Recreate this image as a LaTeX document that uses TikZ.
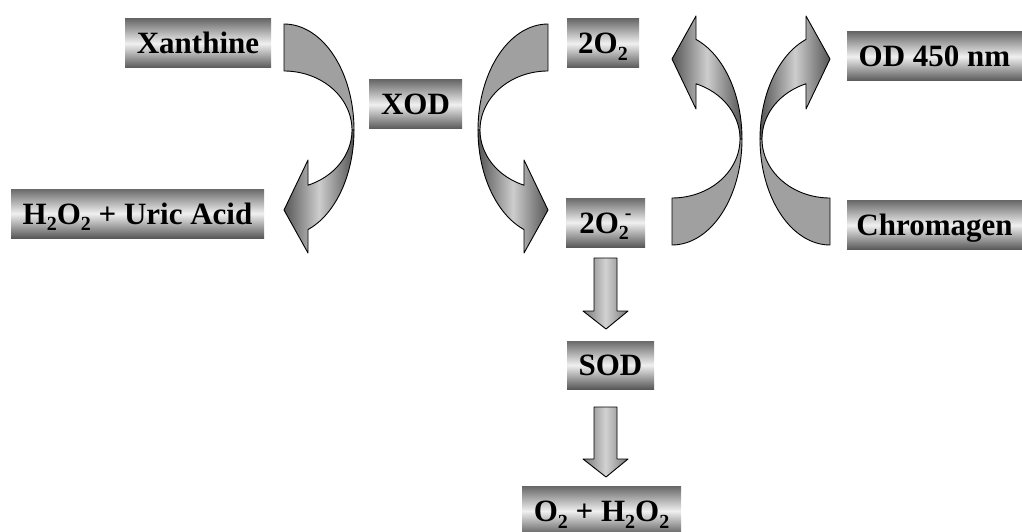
\documentclass[tikz,border=0pt]{standalone}
\usepackage{fontspec}
\setmainfont{Liberation Serif}
\definecolor{boxtop}{RGB}{105,105,105}
\definecolor{boxbot}{RGB}{88,88,88}
\definecolor{boxmid}{RGB}{240,240,240}
\definecolor{arrdark}{RGB}{85,85,85}
\definecolor{arrlight}{RGB}{205,205,205}
\definecolor{arrback}{RGB}{160,160,160}
\newcommand\subtwo{\raisebox{-0.22em}{\fontsize{20}{20}\selectfont 2}}
\newcommand\subsupminus{\rlap{\raisebox{-0.22em}{\fontsize{20}{20}\selectfont 2}}\raisebox{0.42em}{\fontsize{20}{20}\selectfont\kern0.3em-}}
\tikzset{
  labelbox/.style={shape=rectangle, inner sep=0pt, minimum height=49pt,
    top color=boxtop, bottom color=boxbot, middle color=boxmid,
    font=\fontsize{31}{36}\selectfont\bfseries, text=black,
    text height=21pt, text depth=0pt},
  backpiece/.style={draw=black, line width=0.9pt, fill=arrback, line join=round},
  frontpiece/.style={draw=black, line width=0.9pt, left color=arrdark, right color=arrdark, middle color=arrlight, line join=round},
  straightarrow/.style={draw=black, line width=0.9pt, left color=arrdark!80, right color=arrdark!80, middle color=arrlight!90, line join=round}
}
% #1 cx, #2 cy, #3 sx, #4 sy
\newcommand\twistarrow[4]{%
  \draw[backpiece] plot[domain=-90:0, samples=40, variable=\t] ({#1+#3*70*cos(\t)},{#2+#4*106*sin(\t)})
     -- plot[domain=0:-90, samples=40, variable=\t] ({#1+#3*68*cos(\t)},{#2+#4*59*sin(\t)}) -- cycle;
  \draw[frontpiece] plot[domain=0:69.3, samples=40, variable=\t] ({#1+#3*68*cos(\t)},{#2+#4*59*sin(\t)})
     -- ({#1+#3*24},{#2+#4*30}) -- ({#1},{#2+#4*80}) -- ({#1+#3*24},{#2+#4*123})
     -- plot[domain=69.95:0, samples=40, variable=\t] ({#1+#3*70*cos(\t)},{#2+#4*106*sin(\t)}) -- cycle;
}
\begin{document}
\begin{tikzpicture}[x=1pt,y=-1pt]
\useasboundingbox (0,0) rectangle (1022,532);
\clip (0,0) rectangle (1022,532);

% boxes
\node[labelbox, minimum width=146pt] (xan) at (198,43.5) {Xanthine};
\node[labelbox, minimum width=253pt] (uric) at (137.5,213.5) {H\subtwo O\subtwo{} + Uric Acid};
\node[labelbox, minimum width=93pt] (xod) at (415.5,104.5) {XOD};
\node[labelbox, minimum width=72pt] (otwo) at (603,43.5) {2O\subtwo};
\node[labelbox, minimum width=79pt] (superox) at (605.5,222.5) {2O\subsupminus};
\node[labelbox, minimum width=175pt] (od) at (934.5,56.5) {OD 450 nm};
\node[labelbox, minimum width=175pt] (chrom) at (934.5,225) {Chromagen};
\node[labelbox, minimum width=87pt, minimum height=48pt] (sod) at (610.5,365) {SOD};
\node[labelbox, minimum width=159pt] (prod) at (601.5,511) {O\subtwo{} + H\subtwo O\subtwo};

% curved twisted arrows
\twistarrow{284}{130}{1}{1}
\twistarrow{548}{130}{-1}{1}
\twistarrow{672}{139}{1}{-1}
\twistarrow{830}{139}{-1}{-1}

% straight down arrows
\draw[straightarrow] (594,258) -- (617,258) -- (617,311) -- (628,311) -- (606,329) -- (583,311) -- (594,311) -- cycle;
\draw[straightarrow] (594,407) -- (617,407) -- (617,459) -- (628,459) -- (606,477) -- (583,459) -- (594,459) -- cycle;
\end{tikzpicture}
\end{document}
